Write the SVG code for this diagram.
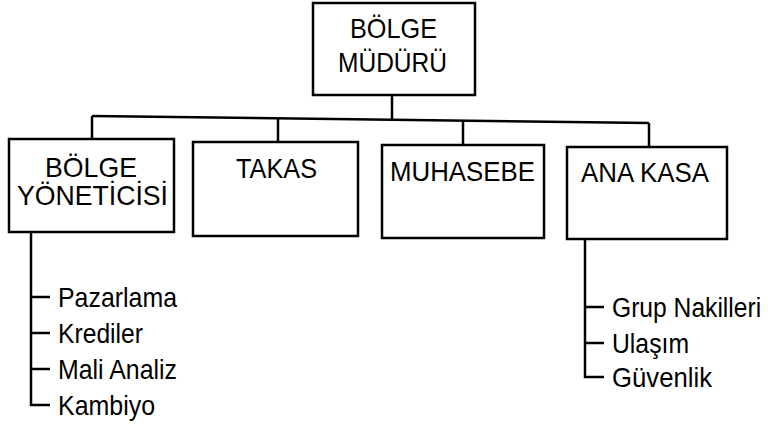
<svg xmlns="http://www.w3.org/2000/svg" width="768" height="426" viewBox="0 0 768 426">
<style>
.box{fill:#fff;stroke:#000;stroke-width:2.5}
.ln{fill:none;stroke:#000;stroke-width:2.5}
.t{font-family:"Liberation Sans",Arial,sans-serif;font-size:28px;fill:#000}
</style>
<rect width="768" height="426" fill="#fff"/>
<g id="connectors">
<line class="ln" x1="392" y1="95" x2="392" y2="120"/>
<line class="ln" x1="92" y1="116" x2="649" y2="123"/>
<line class="ln" x1="92" y1="116" x2="92" y2="139"/>
<line class="ln" x1="278" y1="118" x2="278" y2="142"/>
<line class="ln" x1="463" y1="121" x2="463" y2="145"/>
<line class="ln" x1="649" y1="123" x2="649" y2="147"/>
<path class="ln" d="M31 232 V405 H50 M31 297 H50 M31 333 H50 M31 369 H50"/>
<path class="ln" d="M585 239 V377 H604 M585 307 H604 M585 343 H604"/>
</g>
<g id="bolge-muduru">
<rect class="box" x="313" y="3" width="162" height="92"/>
<text class="t" x="350" y="38" textLength="87" lengthAdjust="spacingAndGlyphs">BÖLGE</text>
<text class="t" x="338" y="72" textLength="109" lengthAdjust="spacingAndGlyphs">MÜDÜRÜ</text>
</g>
<g id="bolge-yoneticisi">
<rect class="box" x="9" y="139" width="165" height="93"/>
<text class="t" x="45" y="177" textLength="92" lengthAdjust="spacingAndGlyphs">BÖLGE</text>
<text class="t" x="17" y="205" textLength="151" lengthAdjust="spacingAndGlyphs">YÖNETİCİSİ</text>
</g>
<g id="takas">
<rect class="box" x="193" y="142" width="165" height="94"/>
<text class="t" x="236" y="178" textLength="81" lengthAdjust="spacingAndGlyphs">TAKAS</text>
</g>
<g id="muhasebe">
<rect class="box" x="382" y="145" width="162" height="93"/>
<text class="t" x="390" y="181" textLength="145" lengthAdjust="spacingAndGlyphs">MUHASEBE</text>
</g>
<g id="ana-kasa">
<rect class="box" x="567" y="147" width="160" height="92"/>
<text class="t" x="581" y="182" textLength="128" lengthAdjust="spacingAndGlyphs">ANA KASA</text>
</g>
<g id="bolge-yoneticisi-items">
<text class="t" x="58" y="307" textLength="119" lengthAdjust="spacingAndGlyphs">Pazarlama</text>
<text class="t" x="58" y="343" textLength="85" lengthAdjust="spacingAndGlyphs">Krediler</text>
<text class="t" x="58" y="379" textLength="119" lengthAdjust="spacingAndGlyphs">Mali Analiz</text>
<text class="t" x="58" y="415" textLength="97" lengthAdjust="spacingAndGlyphs">Kambiyo</text>
</g>
<g id="ana-kasa-items">
<text class="t" transform="matrix(0.88,0,0,1,612,317)">Grup Nakilleri</text>
<text class="t" x="612" y="353" textLength="77" lengthAdjust="spacingAndGlyphs">Ulaşım</text>
<text class="t" x="612" y="387" textLength="100" lengthAdjust="spacingAndGlyphs">Güvenlik</text>
</g>
</svg>
